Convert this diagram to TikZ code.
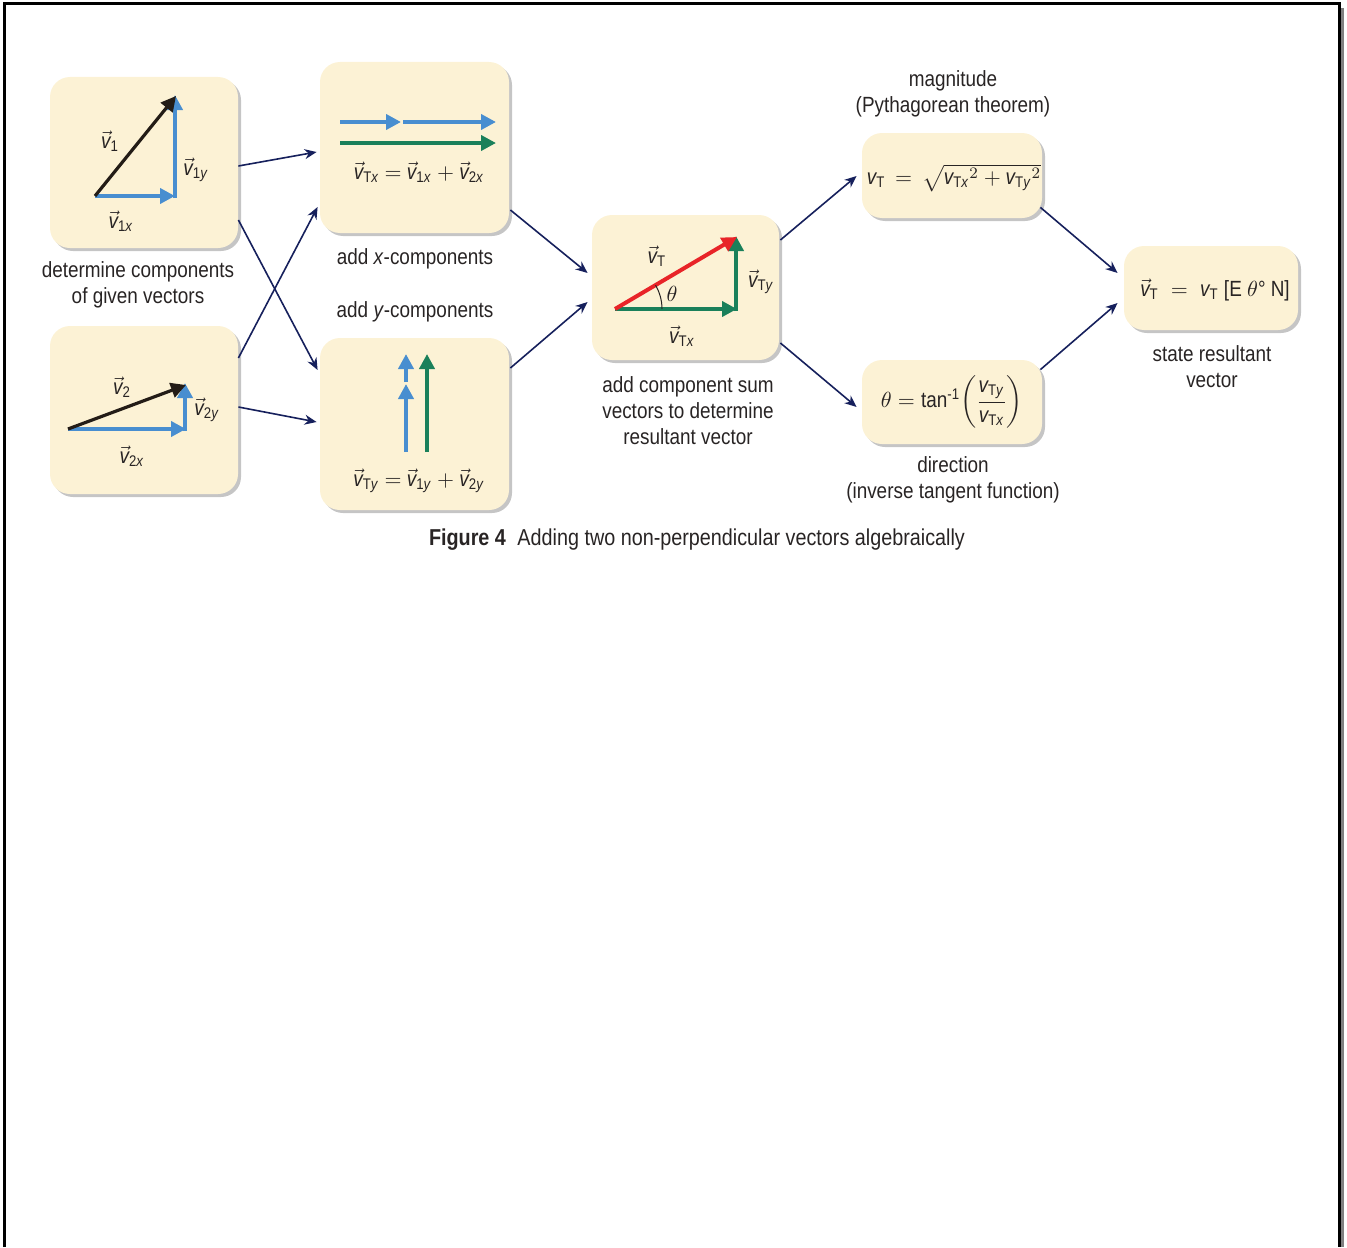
\documentclass[tikz,border=0pt]{standalone}
\usepackage{amsmath}
\usepackage{fontspec}
\setmainfont{Liberation Sans}[FakeStretch=0.86]
\usetikzlibrary{arrows.meta,shadows,positioning}
\definecolor{cream}{RGB}{252,242,213}
\definecolor{vblue}{RGB}{72,142,208}
\definecolor{vgreen}{RGB}{26,128,90}
\definecolor{vred}{RGB}{232,36,40}
\definecolor{navy}{RGB}{22,32,92}
\definecolor{vblack}{RGB}{35,28,22}
\definecolor{ink}{RGB}{40,36,36}
\newcommand{\vv}[1]{$\vec{\textit{v}}_{\text{#1}}$}
\newcommand{\sv}[1]{\textit{v}_{\text{#1}}}

\tikzset{
  box/.style={fill=cream, rounded corners=10pt, inner sep=0pt,
    drop shadow={shadow xshift=1.5pt, shadow yshift=-1.5pt, fill=black!45, opacity=0.5}},
  link/.style={navy, line width=0.8pt, -{Stealth[length=6pt,width=5pt]}},
  comp/.style={line width=2.3pt, -{Triangle[length=7.5pt,width=7.5pt]}},
  txt/.style={align=center, text=ink, font=\fontsize{11}{13}\selectfont},
  lbl/.style={text=ink, font=\fontsize{11}{13}\selectfont, inner sep=1pt}
}

\begin{document}
\begin{tikzpicture}[x=0.5pt,y=-0.5pt] %% one unit is one pixel of the page
            \useasboundingbox (0,0) rectangle (1347,1247);
            \draw[line width=1.5pt] (4,1247) -- (4,4) -- (1339,4) -- (1339,1247);
            \draw[black!50, line width=1.5pt] (1342.5,8) -- (1342.5,1247);

            \node[box, minimum width=94pt, minimum height=85.5pt] (v1box) at (144,162.5) {};
            \node[box, minimum width=94pt, minimum height=84pt] (v2box) at (144,410) {};
            \node[box, minimum width=94.5pt, minimum height=85.5pt] (xbox) at (414.5,147.5) {};
            \node[box, minimum width=94.5pt, minimum height=86pt] (ybox) at (414.5,424) {};
            \node[box, minimum width=93.5pt, minimum height=72.5pt] (sumbox) at (685.5,287.5) {};
            \node[box, minimum width=90pt, minimum height=42.5pt] (magbox) at (952,175.5) {};
            \node[box, minimum width=90pt, minimum height=42pt] (dirbox) at (952,402) {};
            \node[box, minimum width=87pt, minimum height=42pt] (resbox) at (1211,288) {};

            \draw[link] ([shift={(0,3.5)}]v1box.east) -- ([shift={(-3,4.5)}]xbox.west);
            \draw[link] ([shift={(0,57.5)}]v1box.east) -- ([shift={(-2,-54)}]ybox.west);
            \draw[link] ([shift={(0,-52)}]v2box.east) -- ([shift={(-2,59.5)}]xbox.west);
            \draw[link] ([shift={(0,-3)}]v2box.east) -- ([shift={(-3,-2)}]ybox.west);
            \draw[link] ([shift={(1,62.5)}]xbox.east) -- ([shift={(-4,-14.5)}]sumbox.west);
            \draw[link] ([shift={(1,-56)}]ybox.east) -- ([shift={(-4,14.5)}]sumbox.west);
            \draw[link] ([shift={(1,-47.5)}]sumbox.east) -- ([shift={(-5,0.5)}]magbox.west);
            \draw[link] ([shift={(1,55.5)}]sumbox.east) -- ([shift={(-5,5)}]dirbox.west);
            \draw[link] ([shift={(-2,-11)}]magbox.south east) -- ([shift={(-6,-15)}]resbox.west);
            \draw[link] ([shift={(-2,10)}]dirbox.north east) -- ([shift={(-6,15)}]resbox.west);

%            first given vector
            \draw[comp, vblue] (95,196) -- (175,196);
            \draw[comp, vblue] (175,198) -- (175,95);
            \draw[comp, vblack, line width=1.6pt] (95,196) -- (176,96);
            \node[lbl] (v1) at (110,141) {\vv{1}};
            \node[lbl] (v1y) at (196,170) {\vv{1\textit{y}}};
            \node[lbl] (v1x) at (121,221) {\vv{1\textit{x}}};

%            second given vector
            \draw[comp, vblue] (68,429) -- (186,429);
            \draw[comp, vblue] (185,431) -- (185,383);
            \draw[comp, vblack, line width=1.6pt] (68,429) -- (186,385);
            \node[lbl] (v2) at (122,387) {\vv{2}};
            \node[lbl] (v2y) at (207,410) {\vv{2\textit{y}}};
            \node[lbl] (v2x) at (132,456) {\vv{2\textit{x}}};

%            x-components
            \draw[comp, vblue] (340,122) -- (401,122);
            \draw[comp, vblue] (403,122) -- (496,122);
            \draw[comp, vgreen] (340,143) -- (496,143);
            \node[lbl] (xsum) at (419,172) {\vv{T\textit{x}} $=$ \vv{1\textit{x}} $+$ \vv{2\textit{x}}};

%            y-components
            \draw[comp, vblue] (406,452) -- (406,384);
            \draw[comp, vblue] (406,382) -- (406,354);
            \draw[comp, vgreen] (427,452) -- (427,354);
            \node[lbl] (ysum) at (419,481) {\vv{T\textit{y}} $=$ \vv{1\textit{y}} $+$ \vv{2\textit{y}}};

%            resultant
            \draw[comp, vgreen] (615,309) -- (737,309);
            \draw[comp, vgreen] (736,311) -- (736,236);
            \draw[comp, vred, line width=2pt] (615,309) -- (737,237);
            \draw[ink, line width=0.5pt] (662,309) arc (0:-30.5:47);
            \node[lbl] (theta) at (672,294) {$\theta$};
            \node[lbl] (vt) at (657,256) {\vv{T}};
            \node[lbl] (vty) at (761,282) {\vv{T\textit{y}}};
            \node[lbl] (vtx) at (682,336) {\vv{T\textit{x}}};

            \node[lbl] (mageq) at (954,178) {$\sv{T} \,=\, \sqrt{{\sv{T\textit{x}}}^{2} + {\sv{T\textit{y}}}^{2}}$};
            \node[lbl] (direq) at (952,402) {$\theta = \text{tan}^{\text{-1}}\!\left(\dfrac{\sv{T\textit{y}}}{\sv{T\textit{x}}}\right)$};
            \node[lbl] (reseq) at (1215,290) {$\vec{\textit{v}}_{\text{T}} \;=\; \sv{T}$ [E $\theta$° N]};

            \node[txt] (giventxt) at (138,285) {determine components\\of given vectors};
            \node[txt] (xtxt) at (415,259) {add \textit{x}-components};
            \node[txt] (ytxt) at (415,312) {add \textit{y}-components};
            \node[txt] (sumtxt) at (688,411) {add component sum\\vectors to determine\\resultant vector};
            \node[txt] (magtxt) at (953,94) {magnitude\\(Pythagorean theorem)};
            \node[txt] (dirtxt) at (953,480) {direction\\(inverse tangent function)};
            \node[txt] (restxt) at (1212,367) {state resultant\\vector};

            \node[txt, font=\fontsize{11.5}{13}\selectfont] (caption) at (697,540) {\textbf{Figure 4}\enspace Adding two non-perpendicular vectors algebraically};
\end{tikzpicture}
\end{document}
